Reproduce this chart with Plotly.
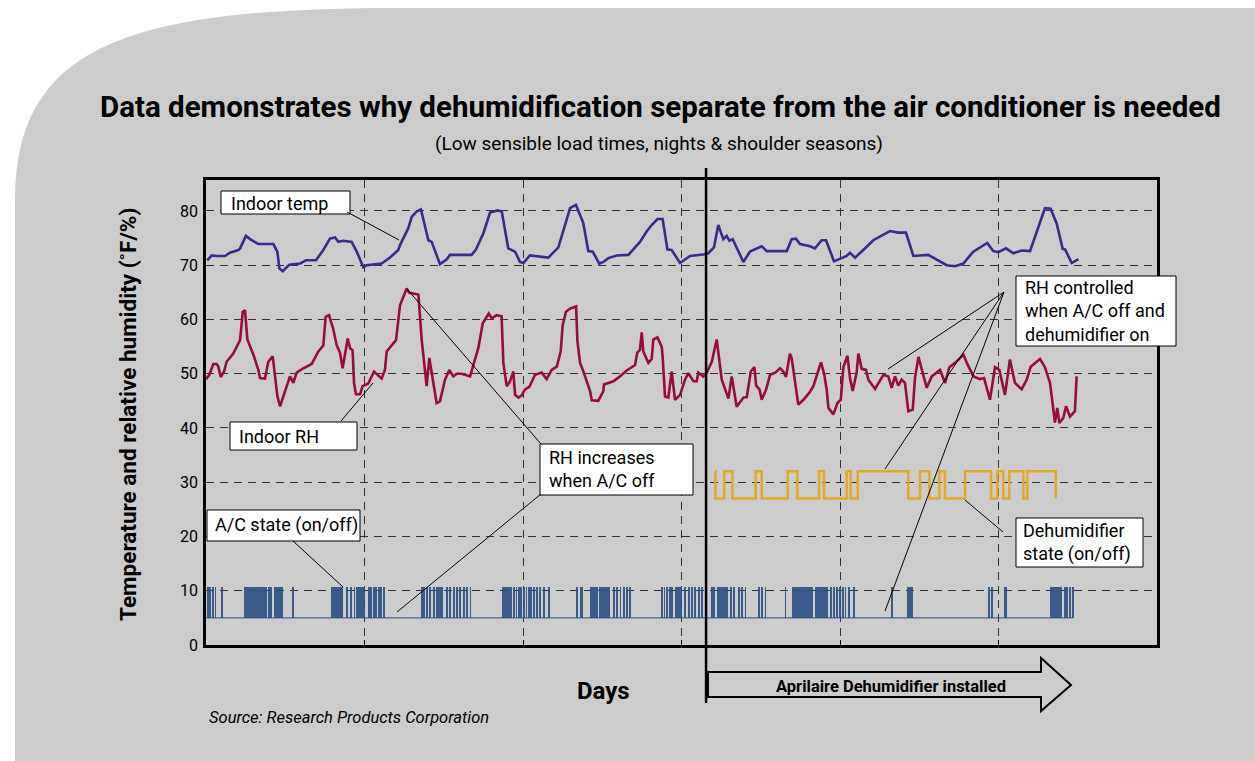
import plotly.graph_objects as go

# ---------------- data ----------------
temp_day = [0.008,0.036,0.067,0.12,0.151,0.204,0.215,0.252,0.278,0.33,0.425,0.45,0.463,0.484,0.526,0.593,0.631,0.694,
            0.74,0.782,0.814,0.835,0.866,0.919,0.951,0.993,1.014,1.108,1.161,1.213,1.224,1.245,1.276,1.298,1.329,1.356,
            1.375,1.403,1.424,1.476,1.519,1.539,1.676,1.703,1.75,1.792,1.84,1.866,1.907,1.95,1.981,2.002,2.044,2.16,
            2.223,2.254,2.297,2.334,2.38,2.412,2.44,2.481,2.507,2.538,2.591,2.665,2.738,2.78,2.812,2.848,2.881,2.911,
            2.938,2.991,3.054,3.148,3.169,3.205,3.232,3.264,3.285,3.302,3.323,3.39,3.432,3.506,3.538,3.664,3.695,3.722,
            3.748,3.811,3.842,3.884,3.912,3.962,4.042,4.063,4.095,4.147,4.21,4.315,4.368,4.416,4.463,4.557,4.673,4.726,
            4.778,4.841,4.929,4.967,4.999,5.047,5.094,5.146,5.199,5.293,5.329,5.367,5.405,5.42,5.462,5.504]
temp_val = [70.9,71.8,71.7,71.7,72.3,72.8,73.1,75.4,74.8,73.9,73.9,72.5,69.4,68.9,70.1,70.3,70.9,70.9,
            72.8,74.9,75.1,74.3,74.5,74.3,72.5,69.6,70.0,70.3,71.4,72.8,73.7,74.9,76.8,78.9,79.9,80.3,
            78.0,74.6,74.3,70.2,71.1,71.9,71.9,72.9,75.9,79.7,80.1,79.9,73.1,72.5,70.6,70.4,71.8,71.4,
            73.3,76.5,80.5,81.1,77.8,72.6,72.5,70.3,70.6,71.3,71.8,71.9,74.3,76.2,77.4,78.5,78.5,72.9,
            72.8,70.4,71.7,72.0,72.2,73.3,77.4,74.8,75.4,74.5,74.8,70.6,72.5,73.5,72.6,72.6,74.8,74.9,
            73.9,73.5,73.1,74.6,74.6,70.7,71.7,72.3,71.4,72.8,74.6,76.3,76.0,76.0,71.7,71.9,70.0,69.8,
            70.3,72.5,74.1,72.6,72.4,73.1,72.2,72.7,72.6,80.5,80.4,77.7,73.0,72.9,70.4,71.1]

rh_day = [0.0,0.021,0.046,0.067,0.078,0.093,0.114,0.13,0.172,0.215,0.232,0.246,0.261,0.299,0.33,0.341,0.372,0.393,
          0.421,0.435,0.45,0.467,0.498,0.53,0.551,0.572,0.614,0.667,0.709,0.74,0.755,0.776,0.803,0.824,0.845,0.862,
          0.894,0.909,0.925,0.934,0.946,0.972,0.988,1.024,1.06,1.077,1.108,1.129,1.14,1.182,1.199,1.224,1.266,1.283,
          1.34,1.361,1.392,1.409,1.42,1.455,1.476,1.508,1.535,1.56,1.582,1.613,1.666,1.718,1.746,1.784,1.803,
          1.834,1.865,1.876,1.897,1.918,1.939,1.95,1.971,1.992,2.013,2.04,2.076,2.118,2.149,2.181,2.213,2.238,2.25,
          2.271,2.297,2.335,2.343,2.36,2.381,2.423,2.434,2.475,2.507,2.511,2.57,2.612,2.654,2.707,2.721,2.738,2.749,
          2.759,2.791,2.812,2.822,2.848,2.875,2.881,2.896,2.917,2.938,2.959,2.991,3.022,3.043,3.075,3.096,3.106,3.138,
          3.159,3.191,3.222,3.254,3.296,3.317,3.348,3.391,3.412,3.437,3.46,3.471,3.492,3.506,3.534,3.559,3.591,3.622,
          3.642,3.659,3.684,3.695,3.705,3.737,3.769,3.807,3.832,3.864,3.88,3.899,3.916,3.927,3.958,3.984,4.005,4.021,
          4.047,4.063,4.08,4.105,4.116,4.137,4.164,4.179,4.221,4.274,4.305,4.326,4.347,4.368,4.389,4.41,4.431,4.459,
          4.473,4.495,4.526,4.547,4.579,4.631,4.663,4.69,4.726,4.779,4.8,4.842,4.883,4.909,4.946,4.978,5.005,5.041,
          5.072,5.104,5.146,5.178,5.203,5.262,5.293,5.325,5.346,5.356,5.371,5.384,5.409,5.426,5.451,5.482,5.493]
rh_val = [49.0,49.8,51.8,51.8,51.3,49.4,50.4,52.2,53.7,56.2,61.4,61.7,56.3,53.5,50.7,49.2,49.1,52.2,
          53.2,49.2,45.9,44.0,46.8,49.5,48.3,50.2,51.0,51.8,54.1,55.2,60.5,60.8,58.2,55.3,53.9,51.0,
          56.5,54.7,54.3,48.3,46.2,46.2,47.7,48.2,50.4,50.0,49.1,50.7,54.1,55.6,56.2,62.6,65.7,64.9,
          64.6,56.2,47.7,52.9,50.7,44.6,44.9,48.9,50.7,49.5,50.0,50.0,49.5,54.7,59.3,61.1,60.2,
          60.8,60.6,52.0,47.7,48.6,50.4,46.1,45.6,46.0,47.1,47.6,49.8,50.2,49.0,50.7,51.3,54.1,58.9,
          61.4,62.0,62.4,56.1,52.0,50.4,46.8,45.1,45.0,46.8,48.0,48.6,49.5,50.6,51.6,53.9,54.4,57.6,
          54.1,52.0,52.7,56.3,56.7,55.0,53.2,45.8,45.6,50.4,45.2,46.1,48.9,50.1,48.6,48.6,50.2,49.5,
          50.2,52.2,56.3,48.9,45.4,49.5,43.9,45.6,45.7,50.4,51.2,47.8,47.1,45.2,47.1,49.8,50.2,51.0,
          50.4,49.4,53.7,52.9,50.7,44.3,45.2,46.5,47.7,50.7,52.1,50.1,47.1,43.7,42.5,44.6,45.2,51.2,
          53.3,49.2,46.8,50.2,53.7,50.9,50.7,48.9,47.2,49.8,49.5,47.4,49.5,47.8,48.9,48.3,43.1,43.4,
          49.2,53.1,49.5,47.4,49.5,50.7,48.3,51.2,52.0,53.5,52.0,49.5,49.0,49.2,45.2,51.2,50.7,46.1,
          52.6,48.3,47.1,48.9,51.3,52.7,51.2,48.3,43.4,41.0,43.7,40.9,41.9,44.0,42.1,43.1,49.5]

# A/C compressor on-periods (days)
ac_on_start = [0.008,0.021,0.042,0.057,0.099,0.242,0.393,0.408,0.429,0.547,0.789,0.887,0.913,0.934,0.95,0.961,
               1.024,1.039,1.056,1.072,1.087,1.102,1.119,1.361,1.375,1.392,1.413,1.434,1.451,1.518,1.539,1.56,1.581,
               1.602,1.623,1.644,1.666,1.865,1.939,1.956,1.971,1.986,2.002,2.019,2.034,2.05,2.065,2.086,2.107,2.128,
               2.16,2.334,2.36,2.423,2.478,2.57,2.591,2.612,2.633,2.654,2.675,2.875,2.89,2.906,2.923,2.938,2.959,
               3.018,3.043,3.064,3.085,3.106,3.127,3.19,3.205,3.222,3.31,3.327,3.359,3.38,3.401,3.485,3.506,3.527,
               3.653,3.695,3.842,3.941,3.958,3.979,3.996,4.017,4.032,4.053,4.084,4.326,4.421,4.936,4.957,5.037,
               5.325,5.415,5.43,5.45,5.467]
ac_on_end = [0.013,0.026,0.047,0.062,0.104,0.383,0.398,0.413,0.488,0.552,0.866,0.892,0.918,0.939,0.955,1.003,
             1.029,1.044,1.061,1.077,1.092,1.107,1.124,1.366,1.38,1.397,1.418,1.439,1.498,1.523,1.544,1.565,1.586,
             1.607,1.628,1.649,1.671,1.929,1.944,1.961,1.976,1.991,2.007,2.024,2.039,2.055,2.07,2.091,2.112,2.133,
             2.165,2.349,2.376,2.47,2.549,2.575,2.596,2.617,2.638,2.659,2.68,2.88,2.895,2.911,2.928,2.943,3.001,
             3.023,3.048,3.069,3.09,3.111,3.132,3.195,3.21,3.295,3.315,3.332,3.364,3.385,3.406,3.49,3.511,3.532,
             3.658,3.832,3.926,3.946,3.963,3.984,4.001,4.022,4.037,4.058,4.089,4.331,4.459,4.941,4.962,5.052,
             5.40,5.42,5.435,5.455,5.472]
ac_off_level = 5.0
ac_on_level = 10.6
ac_span = [0.0, 5.472]

# Dehumidifier switching times (days) and state after each switch (1 on / 0 off)
dh_day = [3.211,3.214,3.270,3.321,3.468,3.506,3.670,3.731,3.868,3.899,4.042,4.067,4.112,4.431,4.505,4.564,
          4.627,4.662,4.789,4.953,4.993,5.030,5.068,5.157,5.182,5.361]
dh_state = [1,0,1,0,1,0,1,0,1,0,1,0,1,0,1,0,1,0,1,0,1,0,1,0,1,0]
dh_on_level = 32.0
dh_off_level = 27.0

install_day = 3.155
y_ticks = [0,10,20,30,40,50,60,70,80]

# ---------------- layout helpers ----------------
W, H = 1255, 761
L, R, T, B = 206, 1157, 180, 645
def px(x): return (x - L) / (R - L)
def py(y): return (B - y) / (B - T)

FONT = "Roboto, Liberation Sans, Arial, sans-serif"
GRAY = "#cccccc"
TEMP_C = "#3a2a8a"
RH_C = "#990a3d"
AC_C = "#2c4f85"
DH_C = "#e2a828"

fig = go.Figure()

# A/C state
fig.add_trace(go.Scatter(x=ac_span, y=[ac_off_level]*2, mode="lines",
                         line=dict(color=AC_C, width=1), hoverinfo="skip", showlegend=False))
fig.add_trace(go.Bar(x=[(s+e)/2 for s, e in zip(ac_on_start, ac_on_end)],
                     width=[e-s for s, e in zip(ac_on_start, ac_on_end)],
                     y=[ac_on_level-ac_off_level]*len(ac_on_start), base=ac_off_level,
                     marker=dict(color=AC_C, line=dict(width=0)), opacity=0.9, showlegend=False))
# Dehumidifier state
fig.add_trace(go.Scatter(x=dh_day, y=[dh_on_level if s else dh_off_level for s in dh_state],
                         mode="lines", line=dict(color=DH_C, width=2.5, shape="hv"), showlegend=False))
# RH
fig.add_trace(go.Scatter(x=rh_day, y=rh_val, mode="lines", line=dict(color=RH_C, width=2.6), showlegend=False))
# Temp
fig.add_trace(go.Scatter(x=temp_day, y=temp_val, mode="lines", line=dict(color=TEMP_C, width=2.6), showlegend=False))

shapes = []
# background card with rounded top-left corner
pts = "M {},{} L {},{} C {},{} {},{} {},{} L {},{} L {},{} Z".format(
    px(15), py(761), px(15), py(200), px(15), py(45), px(130), py(8), px(400), py(8),
    px(1255), py(8), px(1255), py(761))
shapes.append(dict(type="path", xref="paper", yref="paper", path=pts,
                   fillcolor=GRAY, line=dict(width=0), layer="below"))
# installation line
shapes.append(dict(type="line", xref="x", yref="paper", x0=install_day, x1=install_day,
                   y0=py(703), y1=py(168), line=dict(color="black", width=2.5)))
# arrow
ap = [(708,672),(1041,672),(1041,658),(1071,685),(1041,711),(1041,697),(708,697)]
path = "M " + " L ".join("{},{}".format(px(a), py(b)) for a, b in ap) + " Z"
shapes.append(dict(type="path", xref="paper", yref="paper", path=path,
                   fillcolor=GRAY, line=dict(color="black", width=2)))

# label boxes
boxes = [(221,191,350,214),(230,422,357,450),(540,444,693,495),(207,510,360,541),
         (1016,518,1143,567),(1016,276,1176,346)]
for x0, y0, x1, y1 in boxes:
    shapes.append(dict(type="rect", xref="paper", yref="paper", x0=px(x0), x1=px(x1), y0=py(y1), y1=py(y0),
                       fillcolor="white", line=dict(color="black", width=1)))
# callout lines
calls = [((347,212),(399,240)), ((341,421),(373,383)), ((407,289),(541,444)), ((541,494),(397,612)),
         ((293,541),(343,587)), ((965,500),(1003,532)),
         ((1004,292),(888,369)), ((1004,292),(885,469)), ((1004,292),(885,611))]
for (a, b), (c, d) in calls:
    shapes.append(dict(type="line", xref="paper", yref="paper", x0=px(a), y0=py(b), x1=px(c), y1=py(d),
                       line=dict(color="black", width=1)))

ann = []
def text(x, y, s, size, bold=False, italic=False, xanchor="left", angle=0, family=FONT):
    if bold: s = "<b>" + s + "</b>"
    if italic: s = "<i>" + s + "</i>"
    ann.append(dict(xref="paper", yref="paper", x=px(x), y=py(y), text=s, showarrow=False,
                    xanchor=xanchor, yanchor="middle", textangle=angle, align="left",
                    font=dict(family=family, size=size, color="black")))

text(660, 107, "Data demonstrates why dehumidification separate from the air conditioner is needed", 29.5, bold=True, xanchor="center")
text(659, 143, "(Low sensible load times, nights &amp; shoulder seasons)", 19, xanchor="center")
text(128, 415, "Temperature and relative humidity (˚F/%)", 22.5, bold=True, xanchor="center", angle=-90)
text(603, 691, "Days", 24, bold=True, xanchor="center")
text(891, 686, "Aprilaire Dehumidifier installed", 16.5, bold=True, xanchor="center")
text(207, 717, "Source: Research Products Corporation", 16.5, italic=True)
text(229, 203, "Indoor temp", 18)
text(237, 436, "Indoor RH", 18)
text(547, 469, "RH increases<br>when A/C off", 18)
text(213, 525, "A/C state (on/off)", 18)
text(1021, 542, "Dehumidifier<br>state (on/off)", 18)
text(1023, 311, "RH controlled<br>when A/C off and<br>dehumidifier on", 18)

fig.update_layout(
    width=W, height=H, margin=dict(l=L, r=W-R, t=T, b=H-B),
    paper_bgcolor="white", plot_bgcolor="rgba(0,0,0,0)",
    shapes=shapes, annotations=ann, barmode="overlay", bargap=0,
    xaxis=dict(range=[0, 6], dtick=1, tick0=0, showticklabels=False, ticks="inside", ticklen=5,
               tickcolor="black", showgrid=True, gridcolor="#333333", griddash="8px,6px", gridwidth=1.2,
               zeroline=False, showline=True, linecolor="black", linewidth=2.5, mirror=True),
    yaxis=dict(range=[0, 85.7], tickvals=y_ticks, ticks="", showgrid=True, gridcolor="#333333",
               griddash="8px,6px", gridwidth=1.2, zeroline=False, showline=True, linecolor="black",
               linewidth=2.5, mirror=True, ticklabelstandoff=2,
               tickfont=dict(family=FONT, size=16, color="black")),
    showlegend=False,
)
fig.write_html("out.html", config={"displayModeBar": False},
               post_script="document.body.style.margin='0';document.body.style.overflow='hidden';")
